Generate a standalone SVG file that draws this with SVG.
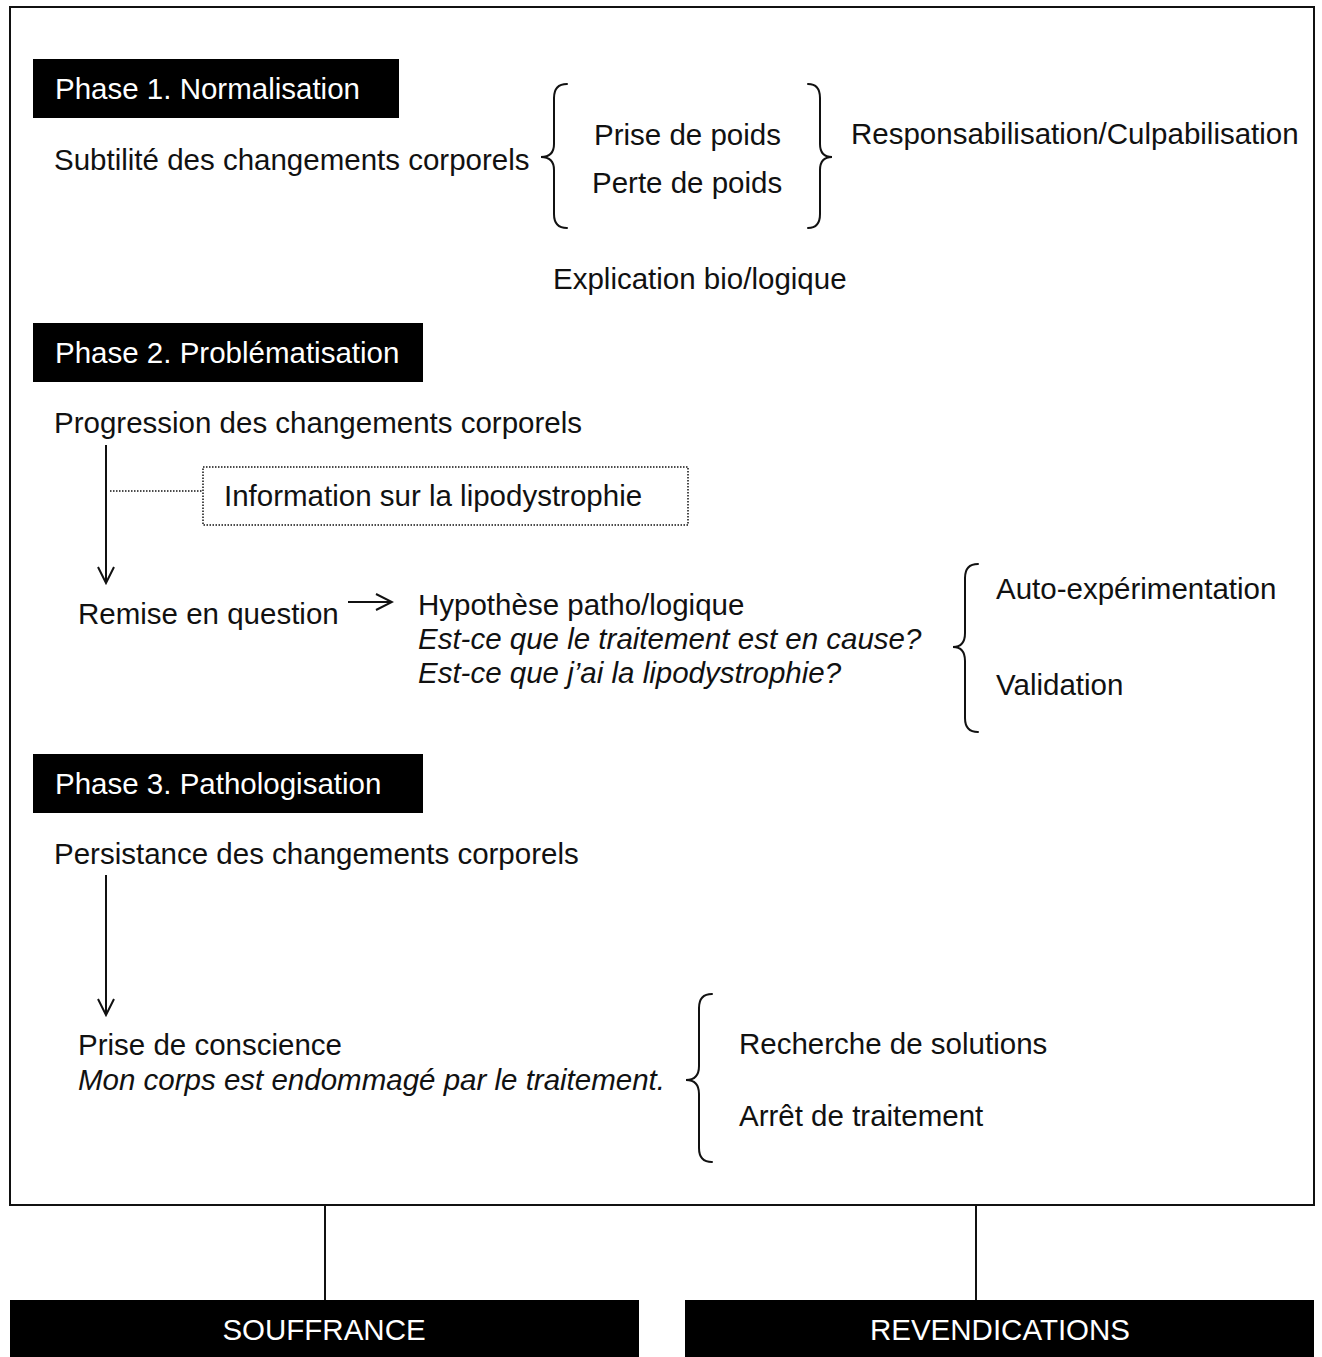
<svg xmlns="http://www.w3.org/2000/svg" width="1322" height="1357" viewBox="0 0 1322 1357">
  <style>
    text { font-family: "Liberation Sans", Arial, sans-serif; font-size: 29.5px; fill: #111; }
    .it { font-style: italic; }
    .phase { fill: #fff; }
    .band { fill: #fff; text-anchor: middle; }
    .ln { stroke: #111; stroke-width: 2; fill: none; }
    .dot { stroke: #111; stroke-width: 1.5; fill: none; stroke-dasharray: 1.5 1.5; }
    .brace { stroke: #111; stroke-width: 2; fill: none; stroke-linecap: round; }
  </style>
  <defs>
    <marker id="openArrow" viewBox="0 0 20 20" refX="18" refY="10" markerWidth="20" markerHeight="20" markerUnits="userSpaceOnUse" orient="auto">
      <path d="M2,2 L18,10 L2,18" fill="none" stroke="#111" stroke-width="2"/>
    </marker>
  </defs>
  <rect width="1322" height="1357" fill="#fff"/>

  <!-- outer frame -->
  <rect id="frame" x="10" y="7" width="1304" height="1198" class="ln"/>

  <!-- Phase 1 -->
  <g id="phase1">
    <rect x="33" y="59" width="366" height="59" fill="#000"/>
    <text class="phase" x="55" y="99">Phase 1. Normalisation</text>
  </g>
  <g id="subtilite"><text x="54" y="170">Subtilité des changements corporels</text></g>
  <g id="poids">
    <text x="594" y="145">Prise de poids</text>
    <text x="592" y="193">Perte de poids</text>
  </g>
  <g id="responsabilisation"><text x="851" y="144">Responsabilisation/Culpabilisation</text></g>
  <g id="explication"><text x="553" y="289">Explication bio/logique</text></g>

  <!-- Phase 2 -->
  <g id="phase2">
    <rect x="33" y="323" width="390" height="59" fill="#000"/>
    <text class="phase" x="55" y="363">Phase 2. Problématisation</text>
  </g>
  <g id="progression"><text x="54" y="433">Progression des changements corporels</text></g>
  <g id="information">
    <rect x="203" y="467" width="485" height="58" class="dot"/>
    <text x="224" y="506">Information sur la lipodystrophie</text>
  </g>
  <g id="remise"><text x="78" y="624">Remise en question</text></g>
  <g id="hypothese">
    <text x="418" y="615">Hypothèse patho/logique</text>
    <text class="it" x="418" y="649">Est-ce que le traitement est en cause?</text>
    <text class="it" x="418" y="683">Est-ce que j’ai la lipodystrophie?</text>
  </g>
  <g id="auto"><text x="996" y="599">Auto-expérimentation</text></g>
  <g id="validation"><text x="996" y="695">Validation</text></g>

  <!-- Phase 3 -->
  <g id="phase3">
    <rect x="33" y="754" width="390" height="59" fill="#000"/>
    <text class="phase" x="55" y="794">Phase 3. Pathologisation</text>
  </g>
  <g id="persistance"><text x="54" y="864">Persistance des changements corporels</text></g>
  <g id="conscience">
    <text x="78" y="1055">Prise de conscience</text>
    <text class="it" x="78" y="1090">Mon corps est endommagé par le traitement.</text>
  </g>
  <g id="recherche"><text x="739" y="1054">Recherche de solutions</text></g>
  <g id="arret"><text x="739" y="1126">Arrêt de traitement</text></g>

  <!-- outcome bands -->
  <g id="souffrance">
    <rect x="10" y="1300" width="629" height="57" fill="#000"/>
    <text class="band" x="324" y="1340">SOUFFRANCE</text>
  </g>
  <g id="revendications">
    <rect x="685" y="1300" width="629" height="57" fill="#000"/>
    <text class="band" x="1000" y="1340">REVENDICATIONS</text>
  </g>

  <!-- connectors and braces -->
  <g id="connectors">
    <line x1="106" y1="445" x2="106" y2="583" class="ln" marker-end="url(#openArrow)"/>
    <line x1="110" y1="491" x2="203" y2="491" class="dot"/>
    <line x1="348" y1="602" x2="392" y2="602" class="ln" marker-end="url(#openArrow)"/>
    <line x1="106" y1="875" x2="106" y2="1015" class="ln" marker-end="url(#openArrow)"/>
    <line x1="325" y1="1205" x2="325" y2="1300" class="ln"/>
    <line x1="976" y1="1205" x2="976" y2="1300" class="ln"/>

    <!-- left brace before weight items -->
    <path class="brace" d="M567,84 Q554,84 554,98 L554,144 Q554,157 541,157 Q554,157 554,170 L554,214 Q554,228 567,228"/>
    <!-- right brace after weight items -->
    <path class="brace" d="M808,84 Q820,84 820,98 L820,144 Q820,157 832,157 Q820,157 820,170 L820,214 Q820,228 808,228"/>
    <!-- brace before Auto-expérimentation / Validation -->
    <path class="brace" d="M978,564 Q965,564 965,578 L965,633 Q965,647 953,647 Q965,647 965,661 L965,718 Q965,732 978,732"/>
    <!-- brace before Recherche / Arrêt -->
    <path class="brace" d="M712,994 Q699,994 699,1008 L699,1066 Q699,1080 686,1080 Q699,1080 699,1094 L699,1148 Q699,1162 712,1162"/>
  </g>
</svg>
